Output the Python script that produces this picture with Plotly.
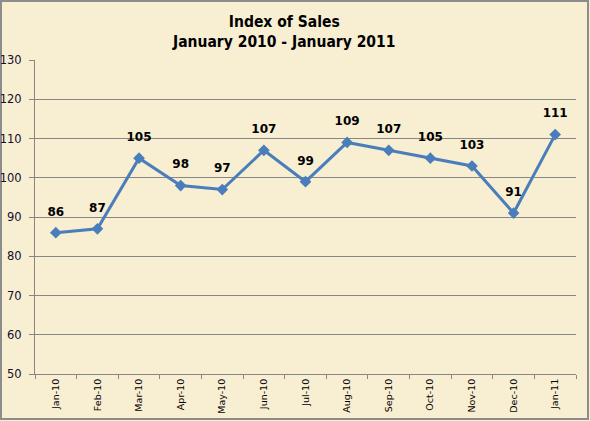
import plotly.graph_objects as go

months = ["Jan-10", "Feb-10", "Mar-10", "Apr-10", "May-10", "Jun-10", "Jul-10",
          "Aug-10", "Sep-10", "Oct-10", "Nov-10", "Dec-10", "Jan-11"]
index_values = [86, 87, 105, 98, 97, 107, 99, 109, 107, 105, 103, 91, 111]
y_ticks = [50, 60, 70, 80, 90, 100, 110, 120, 130]

W, H = 590, 421
L, R, T, B = 35, 14, 60, 47
pw, ph = W - L - R, H - T - B
bg = "#F8EED2"
grid = "#868686"

fig = go.Figure()
fig.add_trace(go.Scatter(
    x=months, y=index_values, mode="lines+markers",
    line=dict(color="#4A7EBB", width=3),
    marker=dict(symbol="diamond", size=9, color="#4A7EBB"),
    hoverinfo="skip",
))
fig.add_trace(go.Scatter(
    x=months, y=index_values, mode="markers+text",
    marker=dict(size=21, color="rgba(0,0,0,0)"),
    text=[str(v) for v in index_values], textposition="top center",
    textfont=dict(family="DejaVu Sans", size=12, color="black", weight="bold"),
    cliponaxis=False, hoverinfo="skip",
))

fig.update_layout(
    width=W, height=H,
    margin=dict(l=L, r=R, t=T, b=B, autoexpand=False),
    paper_bgcolor=bg, plot_bgcolor=bg,
    showlegend=False,
    font=dict(family="DejaVu Sans", color="black"),
    xaxis=dict(type="category", categoryorder="array", categoryarray=months,
               showgrid=False, showline=True, linecolor=grid, linewidth=1,
               ticks="outside", tickson="boundaries", ticklen=4, tickcolor=grid,
               tickangle=-90, tickfont=dict(size=9.5), zeroline=False, automargin=False,
               range=[-0.5, len(months) - 0.5]),
    yaxis=dict(range=[50, 130], tickvals=y_ticks, showgrid=True, gridcolor=grid,
               gridwidth=1, showline=True, linecolor=grid, linewidth=1,
               ticks="outside", ticklen=5, tickcolor=grid,
               tickfont=dict(size=11.5, color="#101030"), ticklabelstandoff=5,
               zeroline=False, automargin=False),
    annotations=[dict(
        text="<b>Index of Sales<br>January 2010 - January 2011</b>",
        xref="paper", yref="paper",
        x=(283 - L) / pw, y=(H - B - 32) / ph,
        xanchor="center", yanchor="middle", showarrow=False,
        font=dict(size=15.5, family="DejaVu Sans Condensed"),
    )],
    shapes=[dict(type="rect", xref="paper", yref="paper",
                 x0=(1 - L) / pw, x1=(588 - L) / pw,
                 y0=(H - B - 419) / ph, y1=(H - B - 1) / ph,
                 line=dict(color="#8C8C8C", width=2), layer="below")],
)

fig.write_html("out.html", config={"displayModeBar": False},
               post_script="document.body.style.margin='0';document.body.style.overflow='hidden';")
